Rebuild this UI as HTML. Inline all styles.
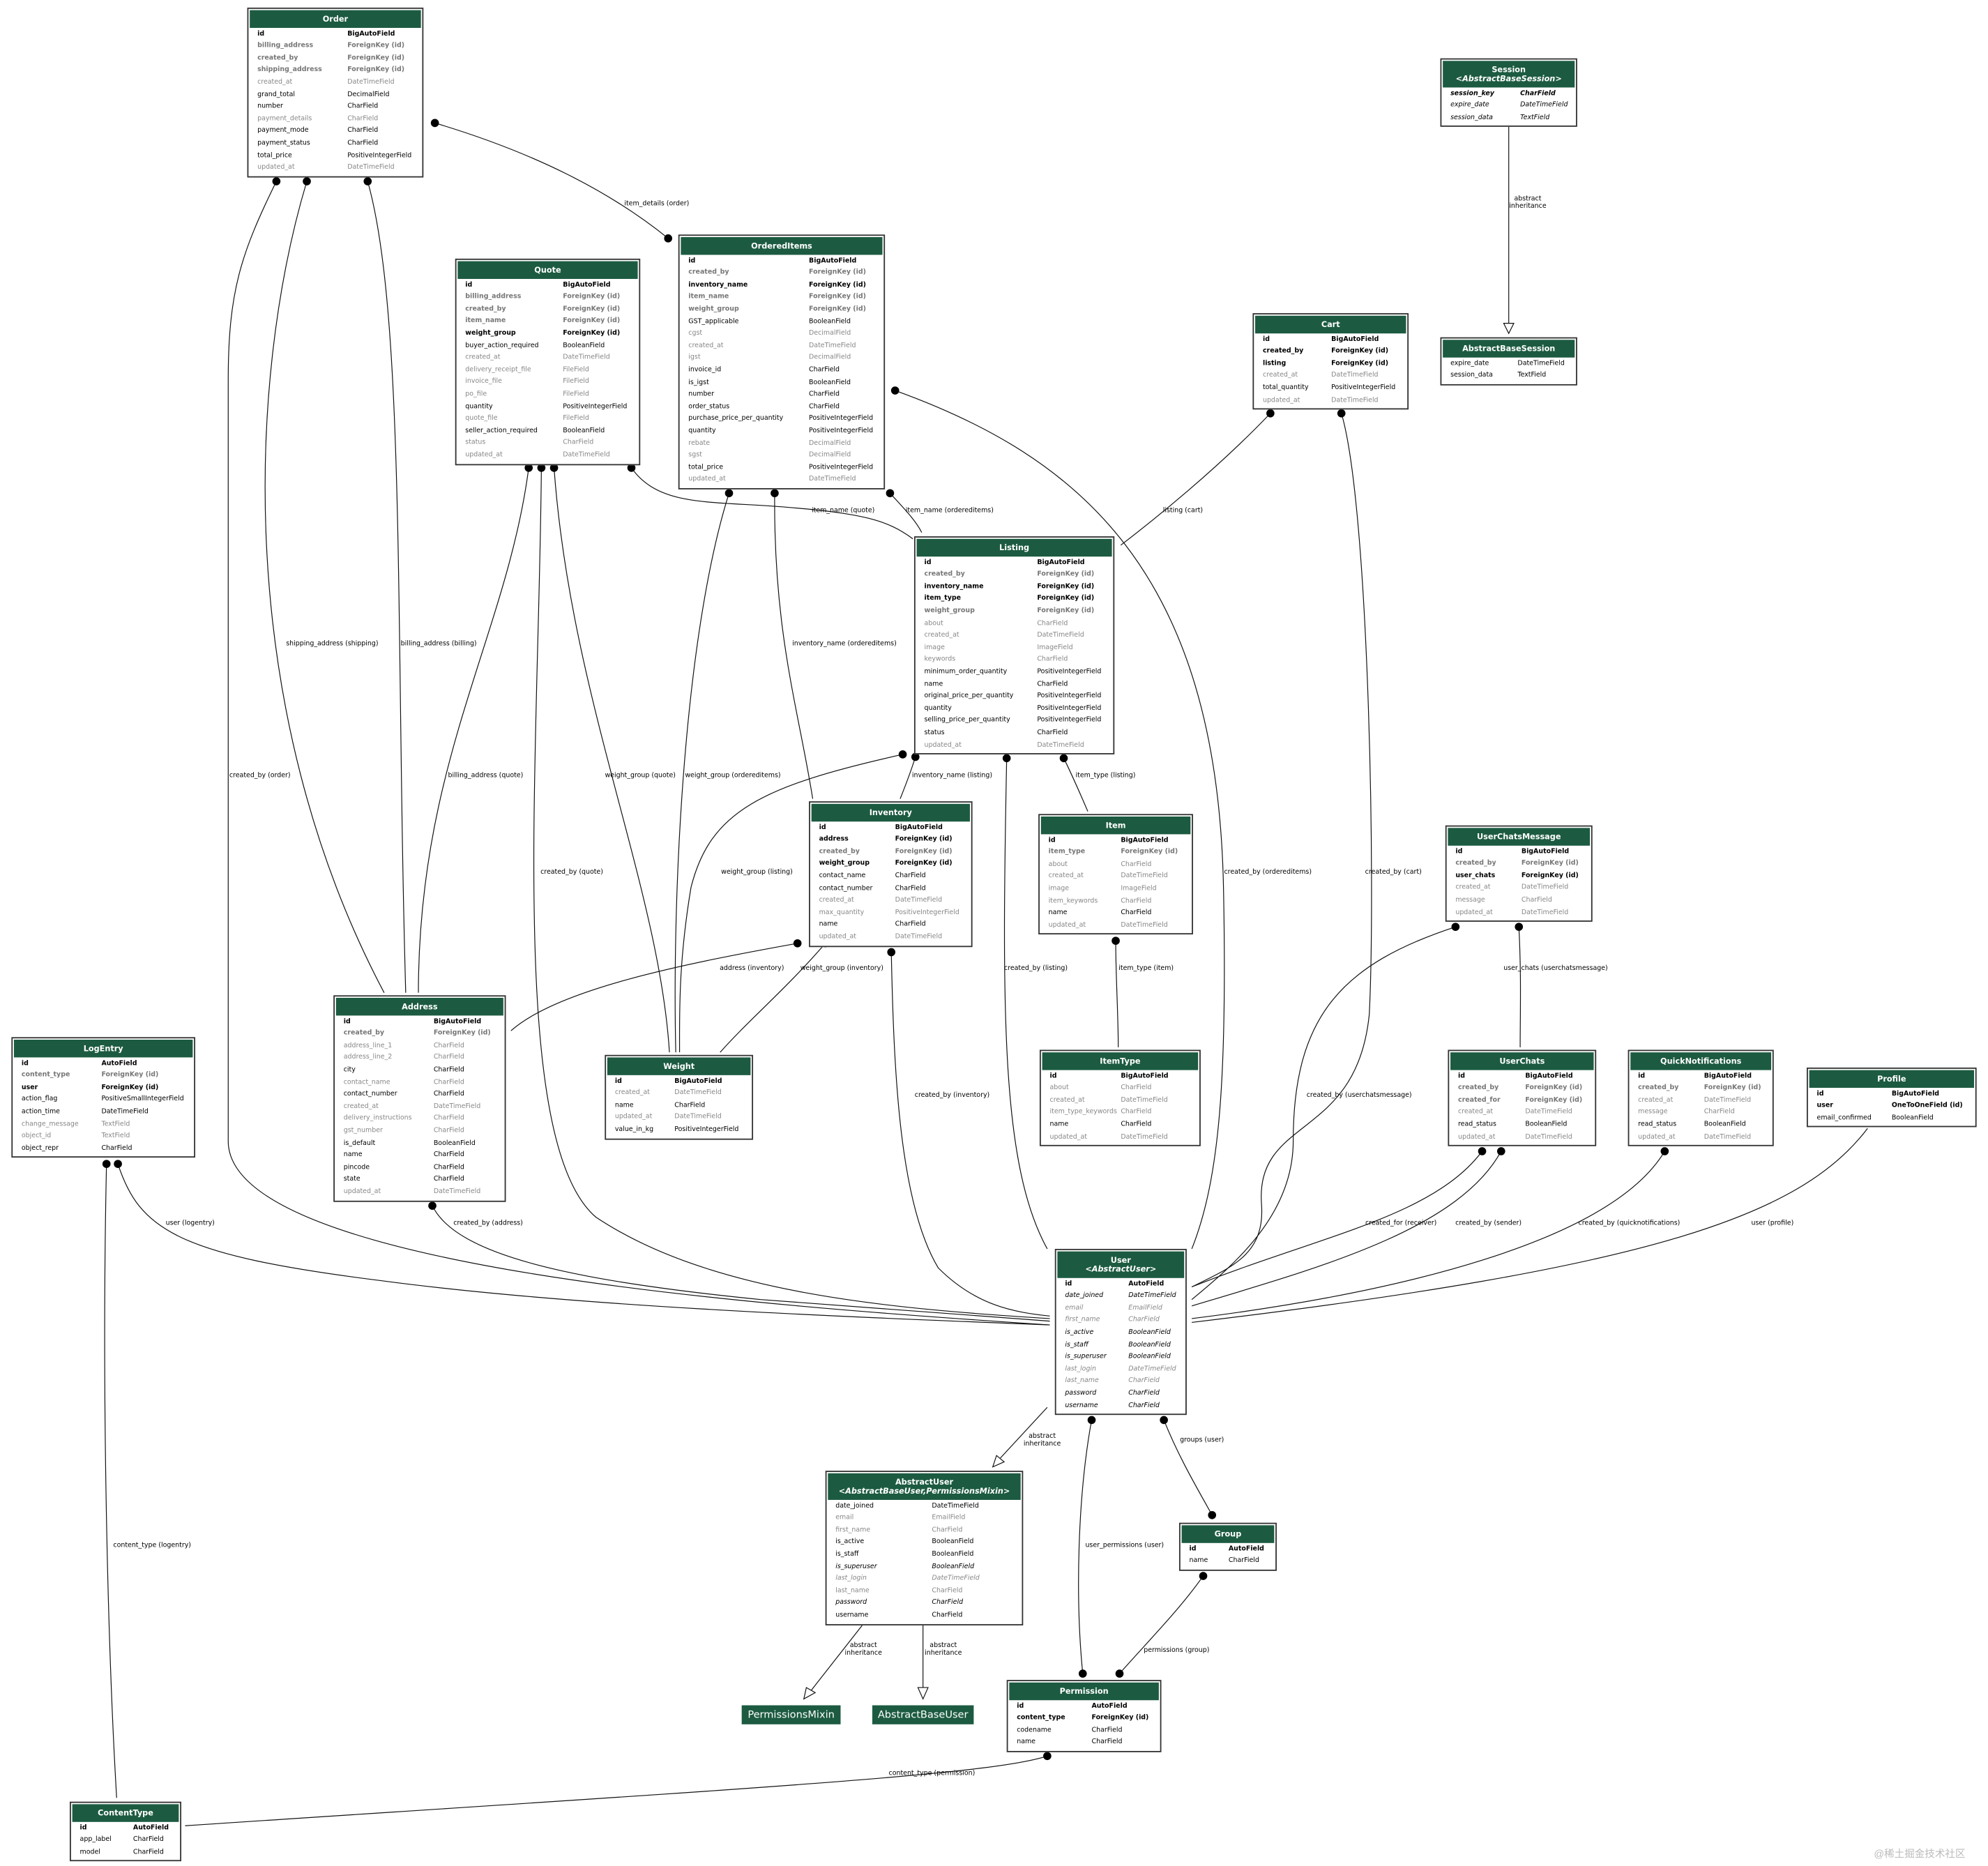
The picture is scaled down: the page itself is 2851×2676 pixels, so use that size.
<!DOCTYPE html>
<html><head><meta charset="utf-8"><style>
html,body{margin:0;padding:0;background:#fff;}
body{width:2851px;height:2676px;overflow:hidden;position:relative;}
#w{position:absolute;left:0;top:0;width:1568px;height:1472px;transform:scale(1.81824);transform-origin:0 0;font-family:"DejaVu Sans","Liberation Sans",sans-serif;}
.t{position:absolute;border:0.8px solid #333;background:#fff;font-size:5.2px;padding-bottom:1px;box-sizing:border-box}
.h{background:#1c5b41;color:#fff;font-weight:bold;text-align:center;font-size:6.2px;line-height:7px;padding:4px 0 3.3px;margin:0.6px 0.6px 0.8px}
.h i{font-weight:bold}
.t p{margin:0;height:9.6px;line-height:9.6px;padding-left:7px;white-space:nowrap}
.t p span{display:inline-block}
.B{font-weight:bold;color:#000}.F{font-weight:bold;color:#777}.G{color:#888}.N{color:#000}.I{font-style:italic;color:#000}.J{font-style:italic;color:#888}.K{font-style:italic;font-weight:bold;color:#000}
.lb{position:absolute;font-size:5.2px;color:#000;white-space:nowrap;transform:translateX(-50%);line-height:6.3px;text-align:center}
.gb{position:absolute;background:#1c5b41;color:#fff;font-size:8px;text-align:center;line-height:15px;height:15px}
svg{position:absolute;left:0;top:0}
</style></head><body><div id="w">
<svg width="1568" height="1472" viewBox="0 0 1568 1472" fill="none" stroke="#111" stroke-width="0.65">
<path d="M218,143 C190,200 180,230 180,300 L180,900 C180,1000 600,1030 828,1045"/>
<path d="M242,143 C195,300 185,560 303,783"/>
<path d="M290,143 C320,250 312,500 320,783"/>
<path d="M343,97 C420,120 480,150 527,188"/>
<path d="M417,369 C400,500 330,600 330,783"/>
<path d="M427,369 C425,600 400,900 470,960 C560,1020 700,1032 828,1040"/>
<path d="M437,369 C450,550 520,700 528,830"/>
<path d="M498,369 C520,400 560,395 620,400 C680,405 700,410 720,425"/>
<path d="M575,389 C540,500 530,700 533,830"/>
<path d="M611,389 C610,500 630,560 641,630"/>
<path d="M702,389 C712,400 722,410 727,420"/>
<path d="M706,308 C850,360 960,450 965,700 C968,850 962,930 940,985"/>
<path d="M1002,326 C960,370 910,410 884,430"/>
<path d="M1058,326 C1080,400 1085,700 1080,800 C1070,900 990,880 995,950 C998,990 970,1000 940,1015"/>
<path d="M1190,100 L1190,257"/>
<path d="M712,595 C600,620 560,640 545,700 C535,760 536,800 536,830"/>
<path d="M722,597 C718,610 714,620 710,630"/>
<path d="M794,598 C790,800 790,920 826,985"/>
<path d="M839,598 C846,612 852,626 858,640"/>
<path d="M629,744 C540,760 440,780 403,813"/>
<path d="M651,744 C620,780 590,805 568,830"/>
<path d="M703,751 C705,850 710,950 740,1000 C770,1030 800,1035 828,1038"/>
<path d="M880,742 C880,770 882,800 882,826"/>
<path d="M1148,731 C1060,760 1020,800 1020,900 C1020,960 970,1000 940,1025"/>
<path d="M1198,731 C1200,770 1199,800 1199,826"/>
<path d="M1169,908 C1130,960 1040,975 940,1015"/>
<path d="M1184,908 C1150,970 1040,1000 940,1030"/>
<path d="M1313,908 C1270,980 1100,1020 940,1040"/>
<path d="M1473,890 C1420,960 1300,1000 940,1043"/>
<path d="M341,951 C360,990 450,1010 600,1025 L828,1042"/>
<path d="M93,918 C110,970 140,990 300,1010 C450,1030 650,1038 828,1045"/>
<path d="M84,918 C80,1100 85,1300 92,1418"/>
<path d="M826,1110 L789,1150"/>
<path d="M861,1120 C850,1180 848,1260 854,1320"/>
<path d="M918,1120 C930,1150 945,1175 956,1195"/>
<path d="M949,1243 C930,1270 905,1295 883,1320"/>
<path d="M680,1282 L640,1333"/>
<path d="M728,1282 L728,1333"/>
<path d="M826,1385 C780,1400 600,1410 146,1440"/>
<g fill="#fff" stroke="#111">
<path d="M1186,255 L1194,255 L1190,263 Z"/>
<path d="M786,1148 L792,1153 L783,1157 Z"/>
<path d="M636,1331 L643,1335 L634,1340 Z"/>
<path d="M724,1331 L732,1331 L728,1340 Z"/>
</g>
<g fill="#000" stroke="none">
<circle cx="218" cy="143" r="3.2"/><circle cx="242" cy="143" r="3.2"/><circle cx="290" cy="143" r="3.2"/>
<circle cx="343" cy="97" r="3.2"/><circle cx="527" cy="188" r="3.2"/>
<circle cx="417" cy="369" r="3.2"/><circle cx="427" cy="369" r="3.2"/><circle cx="437" cy="369" r="3.2"/><circle cx="498" cy="369" r="3.2"/>
<circle cx="575" cy="389" r="3.2"/><circle cx="611" cy="389" r="3.2"/><circle cx="702" cy="389" r="3.2"/><circle cx="706" cy="308" r="3.2"/>
<circle cx="1002" cy="326" r="3.2"/><circle cx="1058" cy="326" r="3.2"/>
<circle cx="712" cy="595" r="3.2"/><circle cx="722" cy="597" r="3.2"/><circle cx="794" cy="598" r="3.2"/><circle cx="839" cy="598" r="3.2"/>
<circle cx="629" cy="744" r="3.2"/><circle cx="651" cy="744" r="3.2"/><circle cx="703" cy="751" r="3.2"/>
<circle cx="880" cy="742" r="3.2"/><circle cx="1148" cy="731" r="3.2"/><circle cx="1198" cy="731" r="3.2"/>
<circle cx="1169" cy="908" r="3.2"/><circle cx="1184" cy="908" r="3.2"/><circle cx="1313" cy="908" r="3.2"/>
<circle cx="341" cy="951" r="3.2"/><circle cx="93" cy="918" r="3.2"/><circle cx="84" cy="918" r="3.2"/>
<circle cx="861" cy="1120" r="3.2"/><circle cx="918" cy="1120" r="3.2"/><circle cx="956" cy="1195" r="3.2"/>
<circle cx="949" cy="1243" r="3.2"/><circle cx="854" cy="1320" r="3.2"/><circle cx="883" cy="1320" r="3.2"/>
<circle cx="826" cy="1385" r="3.2"/>
</g>
</svg>

<div class="lb" style="left:205px;top:609px">created_by (order)</div>
<div class="lb" style="left:262px;top:505px">shipping_address (shipping)</div>
<div class="lb" style="left:346px;top:505px">billing_address (billing)</div>
<div class="lb" style="left:518px;top:158px">item_details (order)</div>
<div class="lb" style="left:383px;top:609px">billing_address (quote)</div>
<div class="lb" style="left:451px;top:685px">created_by (quote)</div>
<div class="lb" style="left:505px;top:609px">weight_group (quote)</div>
<div class="lb" style="left:665px;top:400px">item_name (quote)</div>
<div class="lb" style="left:578px;top:609px">weight_group (ordereditems)</div>
<div class="lb" style="left:666px;top:505px">inventory_name (ordereditems)</div>
<div class="lb" style="left:749px;top:400px">item_name (ordereditems)</div>
<div class="lb" style="left:1000px;top:685px">created_by (ordereditems)</div>
<div class="lb" style="left:933px;top:400px">listing (cart)</div>
<div class="lb" style="left:1099px;top:685px">created_by (cart)</div>
<div class="lb" style="left:1205px;top:154px">abstract<br>inheritance</div>
<div class="lb" style="left:597px;top:685px">weight_group (listing)</div>
<div class="lb" style="left:751px;top:609px">inventory_name (listing)</div>
<div class="lb" style="left:817px;top:761px">created_by (listing)</div>
<div class="lb" style="left:872px;top:609px">item_type (listing)</div>
<div class="lb" style="left:593px;top:761px">address (inventory)</div>
<div class="lb" style="left:664px;top:761px">weight_group (inventory)</div>
<div class="lb" style="left:751px;top:861px">created_by (inventory)</div>
<div class="lb" style="left:904px;top:761px">item_type (item)</div>
<div class="lb" style="left:1072px;top:861px">created_by (userchatsmessage)</div>
<div class="lb" style="left:1227px;top:761px">user_chats (userchatsmessage)</div>
<div class="lb" style="left:1105px;top:962px">created_for (receiver)</div>
<div class="lb" style="left:1174px;top:962px">created_by (sender)</div>
<div class="lb" style="left:1285px;top:962px">created_by (quicknotifications)</div>
<div class="lb" style="left:1398px;top:962px">user (profile)</div>
<div class="lb" style="left:385px;top:962px">created_by (address)</div>
<div class="lb" style="left:150px;top:962px">user (logentry)</div>
<div class="lb" style="left:120px;top:1216px">content_type (logentry)</div>
<div class="lb" style="left:822px;top:1130px">abstract<br>inheritance</div>
<div class="lb" style="left:887px;top:1216px">user_permissions (user)</div>
<div class="lb" style="left:948px;top:1133px">groups (user)</div>
<div class="lb" style="left:928px;top:1299px">permissions (group)</div>
<div class="lb" style="left:681px;top:1295px">abstract<br>inheritance</div>
<div class="lb" style="left:744px;top:1295px">abstract<br>inheritance</div>
<div class="lb" style="left:735px;top:1396px">content_type (permission)</div>

<div class="gb" style="left:585px;top:1345px;width:78px">PermissionsMixin</div>
<div class="gb" style="left:688px;top:1345px;width:80px">AbstractBaseUser</div>

<div class="t" style="left:195px;top:6px;width:139px"><div class="h">Order</div>
<p class="B"><span style="width:71px">id</span>BigAutoField</p>
<p class="F"><span style="width:71px">billing_address</span>ForeignKey (id)</p>
<p class="F"><span style="width:71px">created_by</span>ForeignKey (id)</p>
<p class="F"><span style="width:71px">shipping_address</span>ForeignKey (id)</p>
<p class="G"><span style="width:71px">created_at</span>DateTimeField</p>
<p class="N"><span style="width:71px">grand_total</span>DecimalField</p>
<p class="N"><span style="width:71px">number</span>CharField</p>
<p class="G"><span style="width:71px">payment_details</span>CharField</p>
<p class="N"><span style="width:71px">payment_mode</span>CharField</p>
<p class="N"><span style="width:71px">payment_status</span>CharField</p>
<p class="N"><span style="width:71px">total_price</span>PositiveIntegerField</p>
<p class="G"><span style="width:71px">updated_at</span>DateTimeField</p>
</div>

<div class="t" style="left:359px;top:204px;width:146px"><div class="h">Quote</div>
<p class="B"><span style="width:77px">id</span>BigAutoField</p>
<p class="F"><span style="width:77px">billing_address</span>ForeignKey (id)</p>
<p class="F"><span style="width:77px">created_by</span>ForeignKey (id)</p>
<p class="F"><span style="width:77px">item_name</span>ForeignKey (id)</p>
<p class="B"><span style="width:77px">weight_group</span>ForeignKey (id)</p>
<p class="N"><span style="width:77px">buyer_action_required</span>BooleanField</p>
<p class="G"><span style="width:77px">created_at</span>DateTimeField</p>
<p class="G"><span style="width:77px">delivery_receipt_file</span>FileField</p>
<p class="G"><span style="width:77px">invoice_file</span>FileField</p>
<p class="G"><span style="width:77px">po_file</span>FileField</p>
<p class="N"><span style="width:77px">quantity</span>PositiveIntegerField</p>
<p class="G"><span style="width:77px">quote_file</span>FileField</p>
<p class="N"><span style="width:77px">seller_action_required</span>BooleanField</p>
<p class="G"><span style="width:77px">status</span>CharField</p>
<p class="G"><span style="width:77px">updated_at</span>DateTimeField</p>
</div>

<div class="t" style="left:535px;top:185px;width:163px"><div class="h">OrderedItems</div>
<p class="B"><span style="width:95px">id</span>BigAutoField</p>
<p class="F"><span style="width:95px">created_by</span>ForeignKey (id)</p>
<p class="B"><span style="width:95px">inventory_name</span>ForeignKey (id)</p>
<p class="F"><span style="width:95px">item_name</span>ForeignKey (id)</p>
<p class="F"><span style="width:95px">weight_group</span>ForeignKey (id)</p>
<p class="N"><span style="width:95px">GST_applicable</span>BooleanField</p>
<p class="G"><span style="width:95px">cgst</span>DecimalField</p>
<p class="G"><span style="width:95px">created_at</span>DateTimeField</p>
<p class="G"><span style="width:95px">igst</span>DecimalField</p>
<p class="N"><span style="width:95px">invoice_id</span>CharField</p>
<p class="N"><span style="width:95px">is_igst</span>BooleanField</p>
<p class="N"><span style="width:95px">number</span>CharField</p>
<p class="N"><span style="width:95px">order_status</span>CharField</p>
<p class="N"><span style="width:95px">purchase_price_per_quantity</span>PositiveIntegerField</p>
<p class="N"><span style="width:95px">quantity</span>PositiveIntegerField</p>
<p class="G"><span style="width:95px">rebate</span>DecimalField</p>
<p class="G"><span style="width:95px">sgst</span>DecimalField</p>
<p class="N"><span style="width:95px">total_price</span>PositiveIntegerField</p>
<p class="G"><span style="width:95px">updated_at</span>DateTimeField</p>
</div>

<div class="t" style="left:721px;top:423px;width:158px"><div class="h">Listing</div>
<p class="B"><span style="width:89px">id</span>BigAutoField</p>
<p class="F"><span style="width:89px">created_by</span>ForeignKey (id)</p>
<p class="B"><span style="width:89px">inventory_name</span>ForeignKey (id)</p>
<p class="B"><span style="width:89px">item_type</span>ForeignKey (id)</p>
<p class="F"><span style="width:89px">weight_group</span>ForeignKey (id)</p>
<p class="G"><span style="width:89px">about</span>CharField</p>
<p class="G"><span style="width:89px">created_at</span>DateTimeField</p>
<p class="G"><span style="width:89px">image</span>ImageField</p>
<p class="G"><span style="width:89px">keywords</span>CharField</p>
<p class="N"><span style="width:89px">minimum_order_quantity</span>PositiveIntegerField</p>
<p class="N"><span style="width:89px">name</span>CharField</p>
<p class="N"><span style="width:89px">original_price_per_quantity</span>PositiveIntegerField</p>
<p class="N"><span style="width:89px">quantity</span>PositiveIntegerField</p>
<p class="N"><span style="width:89px">selling_price_per_quantity</span>PositiveIntegerField</p>
<p class="N"><span style="width:89px">status</span>CharField</p>
<p class="G"><span style="width:89px">updated_at</span>DateTimeField</p>
</div>

<div class="t" style="left:988px;top:247px;width:123px"><div class="h">Cart</div>
<p class="B"><span style="width:54px">id</span>BigAutoField</p>
<p class="B"><span style="width:54px">created_by</span>ForeignKey (id)</p>
<p class="B"><span style="width:54px">listing</span>ForeignKey (id)</p>
<p class="G"><span style="width:54px">created_at</span>DateTimeField</p>
<p class="N"><span style="width:54px">total_quantity</span>PositiveIntegerField</p>
<p class="G"><span style="width:54px">updated_at</span>DateTimeField</p>
</div>

<div class="t" style="left:1136px;top:46px;width:108px"><div class="h">Session<br><i>&lt;AbstractBaseSession&gt;</i></div>
<p class="K"><span style="width:55px">session_key</span>CharField</p>
<p class="I"><span style="width:55px">expire_date</span>DateTimeField</p>
<p class="I"><span style="width:55px">session_data</span>TextField</p>
</div>

<div class="t" style="left:1136px;top:266px;width:108px"><div class="h">AbstractBaseSession</div>
<p class="N"><span style="width:53px">expire_date</span>DateTimeField</p>
<p class="N"><span style="width:53px">session_data</span>TextField</p>
</div>

<div class="t" style="left:638px;top:632px;width:129px"><div class="h">Inventory</div>
<p class="B"><span style="width:60px">id</span>BigAutoField</p>
<p class="B"><span style="width:60px">address</span>ForeignKey (id)</p>
<p class="F"><span style="width:60px">created_by</span>ForeignKey (id)</p>
<p class="B"><span style="width:60px">weight_group</span>ForeignKey (id)</p>
<p class="N"><span style="width:60px">contact_name</span>CharField</p>
<p class="N"><span style="width:60px">contact_number</span>CharField</p>
<p class="G"><span style="width:60px">created_at</span>DateTimeField</p>
<p class="G"><span style="width:60px">max_quantity</span>PositiveIntegerField</p>
<p class="N"><span style="width:60px">name</span>CharField</p>
<p class="G"><span style="width:60px">updated_at</span>DateTimeField</p>
</div>

<div class="t" style="left:819px;top:642px;width:122px"><div class="h">Item</div>
<p class="B"><span style="width:57px">id</span>BigAutoField</p>
<p class="F"><span style="width:57px">item_type</span>ForeignKey (id)</p>
<p class="G"><span style="width:57px">about</span>CharField</p>
<p class="G"><span style="width:57px">created_at</span>DateTimeField</p>
<p class="G"><span style="width:57px">image</span>ImageField</p>
<p class="G"><span style="width:57px">item_keywords</span>CharField</p>
<p class="N"><span style="width:57px">name</span>CharField</p>
<p class="G"><span style="width:57px">updated_at</span>DateTimeField</p>
</div>

<div class="t" style="left:1140px;top:651px;width:116px"><div class="h">UserChatsMessage</div>
<p class="B"><span style="width:52px">id</span>BigAutoField</p>
<p class="F"><span style="width:52px">created_by</span>ForeignKey (id)</p>
<p class="B"><span style="width:52px">user_chats</span>ForeignKey (id)</p>
<p class="G"><span style="width:52px">created_at</span>DateTimeField</p>
<p class="G"><span style="width:52px">message</span>CharField</p>
<p class="G"><span style="width:52px">updated_at</span>DateTimeField</p>
</div>

<div class="t" style="left:263px;top:785px;width:136px"><div class="h">Address</div>
<p class="B"><span style="width:71px">id</span>BigAutoField</p>
<p class="F"><span style="width:71px">created_by</span>ForeignKey (id)</p>
<p class="G"><span style="width:71px">address_line_1</span>CharField</p>
<p class="G"><span style="width:71px">address_line_2</span>CharField</p>
<p class="N"><span style="width:71px">city</span>CharField</p>
<p class="G"><span style="width:71px">contact_name</span>CharField</p>
<p class="N"><span style="width:71px">contact_number</span>CharField</p>
<p class="G"><span style="width:71px">created_at</span>DateTimeField</p>
<p class="G"><span style="width:71px">delivery_instructions</span>CharField</p>
<p class="G"><span style="width:71px">gst_number</span>CharField</p>
<p class="N"><span style="width:71px">is_default</span>BooleanField</p>
<p class="N"><span style="width:71px">name</span>CharField</p>
<p class="N"><span style="width:71px">pincode</span>CharField</p>
<p class="N"><span style="width:71px">state</span>CharField</p>
<p class="G"><span style="width:71px">updated_at</span>DateTimeField</p>
</div>

<div class="t" style="left:477px;top:832px;width:117px"><div class="h">Weight</div>
<p class="B"><span style="width:47px">id</span>BigAutoField</p>
<p class="G"><span style="width:47px">created_at</span>DateTimeField</p>
<p class="N"><span style="width:47px">name</span>CharField</p>
<p class="G"><span style="width:47px">updated_at</span>DateTimeField</p>
<p class="N"><span style="width:47px">value_in_kg</span>PositiveIntegerField</p>
</div>

<div class="t" style="left:820px;top:828px;width:127px"><div class="h">ItemType</div>
<p class="B"><span style="width:56px">id</span>BigAutoField</p>
<p class="G"><span style="width:56px">about</span>CharField</p>
<p class="G"><span style="width:56px">created_at</span>DateTimeField</p>
<p class="G"><span style="width:56px">item_type_keywords</span>CharField</p>
<p class="N"><span style="width:56px">name</span>CharField</p>
<p class="G"><span style="width:56px">updated_at</span>DateTimeField</p>
</div>

<div class="t" style="left:1142px;top:828px;width:117px"><div class="h">UserChats</div>
<p class="B"><span style="width:53px">id</span>BigAutoField</p>
<p class="F"><span style="width:53px">created_by</span>ForeignKey (id)</p>
<p class="F"><span style="width:53px">created_for</span>ForeignKey (id)</p>
<p class="G"><span style="width:53px">created_at</span>DateTimeField</p>
<p class="N"><span style="width:53px">read_status</span>BooleanField</p>
<p class="G"><span style="width:53px">updated_at</span>DateTimeField</p>
</div>

<div class="t" style="left:1284px;top:828px;width:115px"><div class="h">QuickNotifications</div>
<p class="B"><span style="width:52px">id</span>BigAutoField</p>
<p class="F"><span style="width:52px">created_by</span>ForeignKey (id)</p>
<p class="G"><span style="width:52px">created_at</span>DateTimeField</p>
<p class="G"><span style="width:52px">message</span>CharField</p>
<p class="N"><span style="width:52px">read_status</span>BooleanField</p>
<p class="G"><span style="width:52px">updated_at</span>DateTimeField</p>
</div>

<div class="t" style="left:1425px;top:842px;width:134px"><div class="h">Profile</div>
<p class="B"><span style="width:59px">id</span>BigAutoField</p>
<p class="B"><span style="width:59px">user</span>OneToOneField (id)</p>
<p class="N"><span style="width:59px">email_confirmed</span>BooleanField</p>
</div>

<div class="t" style="left:9px;top:818px;width:145px"><div class="h">LogEntry</div>
<p class="B"><span style="width:63px">id</span>AutoField</p>
<p class="F"><span style="width:63px">content_type</span>ForeignKey (id)</p>
<p class="B"><span style="width:63px">user</span>ForeignKey (id)</p>
<p class="N"><span style="width:63px">action_flag</span>PositiveSmallIntegerField</p>
<p class="N"><span style="width:63px">action_time</span>DateTimeField</p>
<p class="G"><span style="width:63px">change_message</span>TextField</p>
<p class="G"><span style="width:63px">object_id</span>TextField</p>
<p class="N"><span style="width:63px">object_repr</span>CharField</p>
</div>

<div class="t" style="left:832px;top:985px;width:104px"><div class="h">User<br><i>&lt;AbstractUser&gt;</i></div>
<p class="B"><span style="width:50px">id</span>AutoField</p>
<p class="I"><span style="width:50px">date_joined</span>DateTimeField</p>
<p class="J"><span style="width:50px">email</span>EmailField</p>
<p class="J"><span style="width:50px">first_name</span>CharField</p>
<p class="I"><span style="width:50px">is_active</span>BooleanField</p>
<p class="I"><span style="width:50px">is_staff</span>BooleanField</p>
<p class="I"><span style="width:50px">is_superuser</span>BooleanField</p>
<p class="J"><span style="width:50px">last_login</span>DateTimeField</p>
<p class="J"><span style="width:50px">last_name</span>CharField</p>
<p class="I"><span style="width:50px">password</span>CharField</p>
<p class="I"><span style="width:50px">username</span>CharField</p>
</div>

<div class="t" style="left:651px;top:1160px;width:156px"><div class="h">AbstractUser<br><i>&lt;AbstractBaseUser,PermissionsMixin&gt;</i></div>
<p class="N"><span style="width:76px">date_joined</span>DateTimeField</p>
<p class="G"><span style="width:76px">email</span>EmailField</p>
<p class="G"><span style="width:76px">first_name</span>CharField</p>
<p class="N"><span style="width:76px">is_active</span>BooleanField</p>
<p class="N"><span style="width:76px">is_staff</span>BooleanField</p>
<p class="I"><span style="width:76px">is_superuser</span>BooleanField</p>
<p class="J"><span style="width:76px">last_login</span>DateTimeField</p>
<p class="G"><span style="width:76px">last_name</span>CharField</p>
<p class="I"><span style="width:76px">password</span>CharField</p>
<p class="N"><span style="width:76px">username</span>CharField</p>
</div>

<div class="t" style="left:930px;top:1201px;width:77px"><div class="h">Group</div>
<p class="B"><span style="width:31px">id</span>AutoField</p>
<p class="N"><span style="width:31px">name</span>CharField</p>
</div>

<div class="t" style="left:794px;top:1325px;width:122px"><div class="h">Permission</div>
<p class="B"><span style="width:59px">id</span>AutoField</p>
<p class="B"><span style="width:59px">content_type</span>ForeignKey (id)</p>
<p class="N"><span style="width:59px">codename</span>CharField</p>
<p class="N"><span style="width:59px">name</span>CharField</p>
</div>

<div class="t" style="left:55px;top:1421px;width:88px"><div class="h">ContentType</div>
<p class="B"><span style="width:42px">id</span>AutoField</p>
<p class="N"><span style="width:42px">app_label</span>CharField</p>
<p class="N"><span style="width:42px">model</span>CharField</p>
</div>

<div style="position:absolute;left:1478px;top:1457px;font-size:8px;color:#bbb;font-family:'Liberation Sans','Noto Sans CJK SC',sans-serif;white-space:nowrap">@稀土掘金技术社区</div>
</div></body></html>
